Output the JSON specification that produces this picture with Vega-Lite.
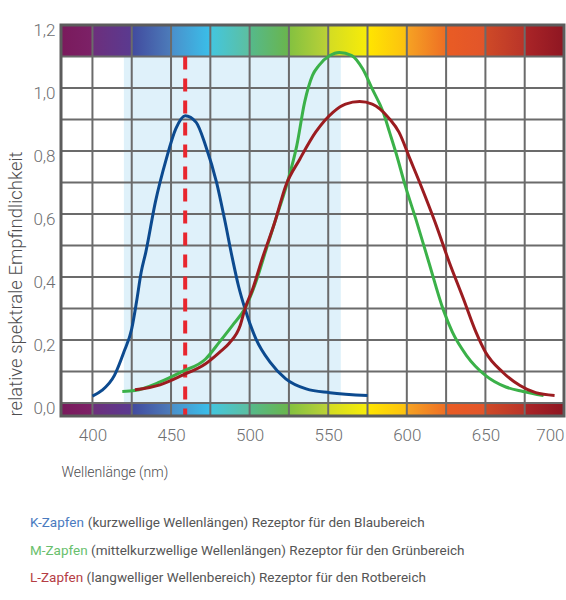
{
  "$schema": "https://vega.github.io/schema/vega-lite/v6.json",
  "autosize": {"type": "pad"},
  "padding": {"left": 6, "top": 21, "right": 0, "bottom": 0},
  "background": "white",
  "spacing": 30,
  "resolve": {"scale": {"color": "independent"}},
  "config": {
    "view": {"stroke": null},
    "font": "Roboto",
    "axis": {"grid": false, "ticks": false, "domain": false, "labelFont": "Roboto", "labelFontWeight": 300, "labelFontSize": 17, "labelColor": "#6d6e70",
      "titleFont": "Roboto", "titleFontWeight": 300, "titleColor": "#4d4d4f"},
    "text": {"font": "Roboto", "fontWeight": 400, "fontSize": 13.5}
  },
  "datasets": {
    "curves": [
      {"cone": "K", "nm": 400, "s": 0.022}, {"cone": "K", "nm": 406, "s": 0.040}, {"cone": "K", "nm": 414, "s": 0.088},
      {"cone": "K", "nm": 420, "s": 0.162}, {"cone": "K", "nm": 425, "s": 0.236}, {"cone": "K", "nm": 428, "s": 0.32},
      {"cone": "K", "nm": 431, "s": 0.415}, {"cone": "K", "nm": 434, "s": 0.48}, {"cone": "K", "nm": 440, "s": 0.637},
      {"cone": "K", "nm": 447, "s": 0.775}, {"cone": "K", "nm": 453, "s": 0.87}, {"cone": "K", "nm": 459, "s": 0.912},
      {"cone": "K", "nm": 466, "s": 0.891}, {"cone": "K", "nm": 472, "s": 0.817}, {"cone": "K", "nm": 479, "s": 0.70},
      {"cone": "K", "nm": 484, "s": 0.585}, {"cone": "K", "nm": 489, "s": 0.46}, {"cone": "K", "nm": 493, "s": 0.37},
      {"cone": "K", "nm": 497, "s": 0.30}, {"cone": "K", "nm": 504, "s": 0.204}, {"cone": "K", "nm": 513, "s": 0.13},
      {"cone": "K", "nm": 523, "s": 0.077}, {"cone": "K", "nm": 536, "s": 0.045}, {"cone": "K", "nm": 551, "s": 0.033},
      {"cone": "K", "nm": 575, "s": 0.024},
      {"cone": "M", "nm": 419, "s": 0.037}, {"cone": "M", "nm": 427, "s": 0.040}, {"cone": "M", "nm": 443, "s": 0.067},
      {"cone": "M", "nm": 457, "s": 0.10}, {"cone": "M", "nm": 472, "s": 0.14}, {"cone": "M", "nm": 481, "s": 0.195},
      {"cone": "M", "nm": 489, "s": 0.246}, {"cone": "M", "nm": 497, "s": 0.30}, {"cone": "M", "nm": 504, "s": 0.384},
      {"cone": "M", "nm": 510, "s": 0.479}, {"cone": "M", "nm": 516, "s": 0.574}, {"cone": "M", "nm": 524, "s": 0.70},
      {"cone": "M", "nm": 530, "s": 0.817}, {"cone": "M", "nm": 535, "s": 0.955}, {"cone": "M", "nm": 540, "s": 1.04},
      {"cone": "M", "nm": 544, "s": 1.071}, {"cone": "M", "nm": 551, "s": 1.103}, {"cone": "M", "nm": 557, "s": 1.113},
      {"cone": "M", "nm": 565, "s": 1.103}, {"cone": "M", "nm": 572, "s": 1.06}, {"cone": "M", "nm": 578, "s": 0.997},
      {"cone": "M", "nm": 585, "s": 0.923}, {"cone": "M", "nm": 589, "s": 0.86}, {"cone": "M", "nm": 593, "s": 0.796},
      {"cone": "M", "nm": 599, "s": 0.69}, {"cone": "M", "nm": 606, "s": 0.58}, {"cone": "M", "nm": 614, "s": 0.447},
      {"cone": "M", "nm": 623, "s": 0.299}, {"cone": "M", "nm": 629, "s": 0.225}, {"cone": "M", "nm": 638, "s": 0.151},
      {"cone": "M", "nm": 650, "s": 0.088}, {"cone": "M", "nm": 663, "s": 0.051}, {"cone": "M", "nm": 674, "s": 0.037},
      {"cone": "M", "nm": 687, "s": 0.024},
      {"cone": "L", "nm": 427, "s": 0.042}, {"cone": "L", "nm": 443, "s": 0.058}, {"cone": "L", "nm": 457, "s": 0.088},
      {"cone": "L", "nm": 472, "s": 0.125}, {"cone": "L", "nm": 481, "s": 0.162}, {"cone": "L", "nm": 487, "s": 0.19},
      {"cone": "L", "nm": 494, "s": 0.246}, {"cone": "L", "nm": 497, "s": 0.299}, {"cone": "L", "nm": 502, "s": 0.363},
      {"cone": "L", "nm": 508, "s": 0.458}, {"cone": "L", "nm": 516, "s": 0.574}, {"cone": "L", "nm": 523, "s": 0.69},
      {"cone": "L", "nm": 532, "s": 0.775}, {"cone": "L", "nm": 542, "s": 0.86}, {"cone": "L", "nm": 553, "s": 0.923},
      {"cone": "L", "nm": 561, "s": 0.949}, {"cone": "L", "nm": 570, "s": 0.957}, {"cone": "L", "nm": 578, "s": 0.949},
      {"cone": "L", "nm": 583, "s": 0.933}, {"cone": "L", "nm": 589, "s": 0.902}, {"cone": "L", "nm": 595, "s": 0.86},
      {"cone": "L", "nm": 602, "s": 0.775}, {"cone": "L", "nm": 609, "s": 0.69}, {"cone": "L", "nm": 618, "s": 0.574},
      {"cone": "L", "nm": 627, "s": 0.447}, {"cone": "L", "nm": 636, "s": 0.331}, {"cone": "L", "nm": 644, "s": 0.225},
      {"cone": "L", "nm": 650, "s": 0.162}, {"cone": "L", "nm": 661, "s": 0.098}, {"cone": "L", "nm": 672, "s": 0.056},
      {"cone": "L", "nm": 682, "s": 0.033}, {"cone": "L", "nm": 694, "s": 0.024}
    ],
    "gridX": [{"nm": 400}, {"nm": 425}, {"nm": 450}, {"nm": 475}, {"nm": 500}, {"nm": 525}, {"nm": 550}, {"nm": 575}, {"nm": 600}, {"nm": 625}, {"nm": 650}, {"nm": 675}],
    "gridY": [{"v": 0}, {"v": 0.1}, {"v": 0.2}, {"v": 0.3}, {"v": 0.4}, {"v": 0.5}, {"v": 0.6}, {"v": 0.7}, {"v": 0.8}, {"v": 0.9}, {"v": 1.0}, {"v": 1.1}],
    "bars": [{"bar": "top", "low": 1.1, "high": 1.2}, {"bar": "bottom", "low": -0.041, "high": 0}],
    "band": [{"from": 420, "to": 558}],
    "marker": [{"nm": 459}],
    "notes": [
      {"cone": "K", "name": "K-Zapfen", "rest": "(kurzwellige Wellenlängen) Rezeptor für den Blaubereich"},
      {"cone": "M", "name": "M-Zapfen", "rest": "(mittelkurzwellige Wellenlängen) Rezeptor für den Grünbereich"},
      {"cone": "L", "name": "L-Zapfen", "rest": "(langwelliger Wellenbereich) Rezeptor für den Rotbereich"}
    ]
  },
  "vconcat": [
    {
      "width": 503,
      "height": 391,
      "layer": [
        {
          "data": {"name": "band"},
          "mark": {"type": "rect", "color": "#dff1fa"},
          "encoding": {
            "x": {"field": "from", "type": "quantitative", "scale": {"domain": [380, 700], "nice": false, "zero": false}},
            "x2": {"field": "to"},
            "y": {"datum": 0, "type": "quantitative", "scale": {"domain": [-0.041, 1.2], "nice": false, "zero": false}},
            "y2": {"datum": 1.1}
          }
        },
        {
          "data": {"name": "bars"},
          "mark": {"type": "rect", "color": {"gradient": "linear", "x1": 0, "x2": 1, "y1": 0, "y2": 0, "stops": [
            {"offset": 0, "color": "#7a1a5c"},
            {"offset": 0.0625, "color": "#7c2167"},
            {"offset": 0.0626, "color": "#6d2f7c"},
            {"offset": 0.1406, "color": "#5a3a90"},
            {"offset": 0.1407, "color": "#424a9e"},
            {"offset": 0.2187, "color": "#4c7cba"},
            {"offset": 0.2188, "color": "#4a8fcb"},
            {"offset": 0.2968, "color": "#3abfe9"},
            {"offset": 0.2969, "color": "#43c6df"},
            {"offset": 0.3749, "color": "#5dbf9f"},
            {"offset": 0.375, "color": "#55b98c"},
            {"offset": 0.4531, "color": "#6ab54c"},
            {"offset": 0.4532, "color": "#83c140"},
            {"offset": 0.5312, "color": "#bcd136"},
            {"offset": 0.5313, "color": "#d3dc23"},
            {"offset": 0.6093, "color": "#f8ec08"},
            {"offset": 0.6094, "color": "#ffe600"},
            {"offset": 0.6874, "color": "#fcc010"},
            {"offset": 0.6875, "color": "#f6a323"},
            {"offset": 0.7656, "color": "#ee6e24"},
            {"offset": 0.7657, "color": "#e95c24"},
            {"offset": 0.8437, "color": "#e2552a"},
            {"offset": 0.8438, "color": "#cf4a27"},
            {"offset": 0.9218, "color": "#b93429"},
            {"offset": 0.9219, "color": "#ab2527"},
            {"offset": 1, "color": "#8e1622"}
          ]}},
          "encoding": {
            "x": {"datum": 380, "type": "quantitative", "scale": {"domain": [380, 700], "nice": false, "zero": false}},
            "x2": {"datum": 700},
            "y": {"field": "low", "type": "quantitative", "scale": {"domain": [-0.041, 1.2], "nice": false, "zero": false}},
            "y2": {"field": "high"}
          }
        },
        {
          "data": {"name": "gridX"},
          "mark": {"type": "rule", "color": "#6b6b6b", "strokeWidth": 2},
          "encoding": {
            "x": {"field": "nm", "type": "quantitative", "scale": {"domain": [380, 700], "nice": false, "zero": false}}
          }
        },
        {
          "data": {"name": "gridY"},
          "mark": {"type": "rule", "color": "#6b6b6b", "strokeWidth": 2},
          "encoding": {
            "y": {"field": "v", "type": "quantitative", "scale": {"domain": [-0.041, 1.2], "nice": false, "zero": false}}
          }
        },
        {
          "data": {"name": "marker"},
          "mark": {"type": "rule", "color": "#e8262e", "strokeWidth": 4, "strokeDash": [13, 9]},
          "encoding": {
            "x": {"field": "nm", "type": "quantitative", "scale": {"domain": [380, 700], "nice": false, "zero": false}},
            "y": {"datum": 1.1, "type": "quantitative", "scale": {"domain": [-0.041, 1.2], "nice": false, "zero": false}},
            "y2": {"datum": -0.041}
          }
        },
        {
          "data": {"name": "curves"},
          "mark": {"type": "line", "strokeWidth": 3, "interpolate": "monotone"},
          "encoding": {
            "x": {"field": "nm", "type": "quantitative", "scale": {"domain": [380, 700], "nice": false, "zero": false},
              "axis": {"values": [400, 450, 500, 550, 600, 650, 700], "format": "d", "labelPadding": 11, "labelFlush": true,
                "title": "Wellenlänge (nm)", "titleAnchor": "start", "titleAlign": "left", "titleFontSize": 14, "titlePadding": 22}},
            "y": {"field": "s", "type": "quantitative", "scale": {"domain": [-0.041, 1.2], "nice": false, "zero": false},
              "axis": {"values": [0, 0.2, 0.4, 0.6, 0.8, 1.0, 1.2], "labelExpr": "replace(format(datum.value, '.1f'), '.', ',')",
                "labelPadding": 6, "labelOffset": 5,
                "title": "relative spektrale Empfindlichkeit", "titleAnchor": "start", "titleFontSize": 18.5, "titlePadding": 7}},
            "color": {"field": "cone", "type": "nominal", "scale": {"domain": ["K", "M", "L"], "range": ["#0c4a8f", "#3bb149", "#9b1c20"]}, "legend": null},
            "detail": {"field": "cone"}
          }
        },
        {
          "data": {"values": [{}]},
          "mark": {"type": "rect", "fillOpacity": 0, "stroke": "#5c5c5c", "strokeWidth": 3},
          "encoding": {
            "x": {"datum": 380, "type": "quantitative", "scale": {"domain": [380, 700], "nice": false, "zero": false}},
            "x2": {"datum": 700},
            "y": {"datum": -0.041, "type": "quantitative", "scale": {"domain": [-0.041, 1.2], "nice": false, "zero": false}},
            "y2": {"datum": 1.2}
          }
        }
      ]
    },
    {
      "width": 503,
      "height": 83,
      "data": {"name": "notes"},
      "encoding": {
        "y": {"field": "cone", "type": "nominal", "sort": ["K", "M", "L"], "axis": null, "scale": {"type": "point", "padding": 0.5}}
      },
      "layer": [
        {
          "mark": {"type": "text", "align": "left", "baseline": "middle", "x": 0, "dx": -31},
          "encoding": {
            "text": {"field": "name"},
            "color": {"field": "cone", "type": "nominal", "scale": {"domain": ["K", "M", "L"], "range": ["#4a7bbf", "#69bf6d", "#b53d45"]}, "legend": null}
          }
        },
        {
          "transform": [{"filter": "datum.cone == 'K'"}],
          "mark": {"type": "text", "align": "left", "baseline": "middle", "x": 0, "dx": 26.8, "color": "#555555"},
          "encoding": {"text": {"field": "rest"}}
        },
        {
          "transform": [{"filter": "datum.cone == 'M'"}],
          "mark": {"type": "text", "align": "left", "baseline": "middle", "x": 0, "dx": 30.1, "color": "#555555"},
          "encoding": {"text": {"field": "rest"}}
        },
        {
          "transform": [{"filter": "datum.cone == 'L'"}],
          "mark": {"type": "text", "align": "left", "baseline": "middle", "x": 0, "dx": 25.6, "color": "#555555"},
          "encoding": {"text": {"field": "rest"}}
        }
      ]
    }
  ]
}
